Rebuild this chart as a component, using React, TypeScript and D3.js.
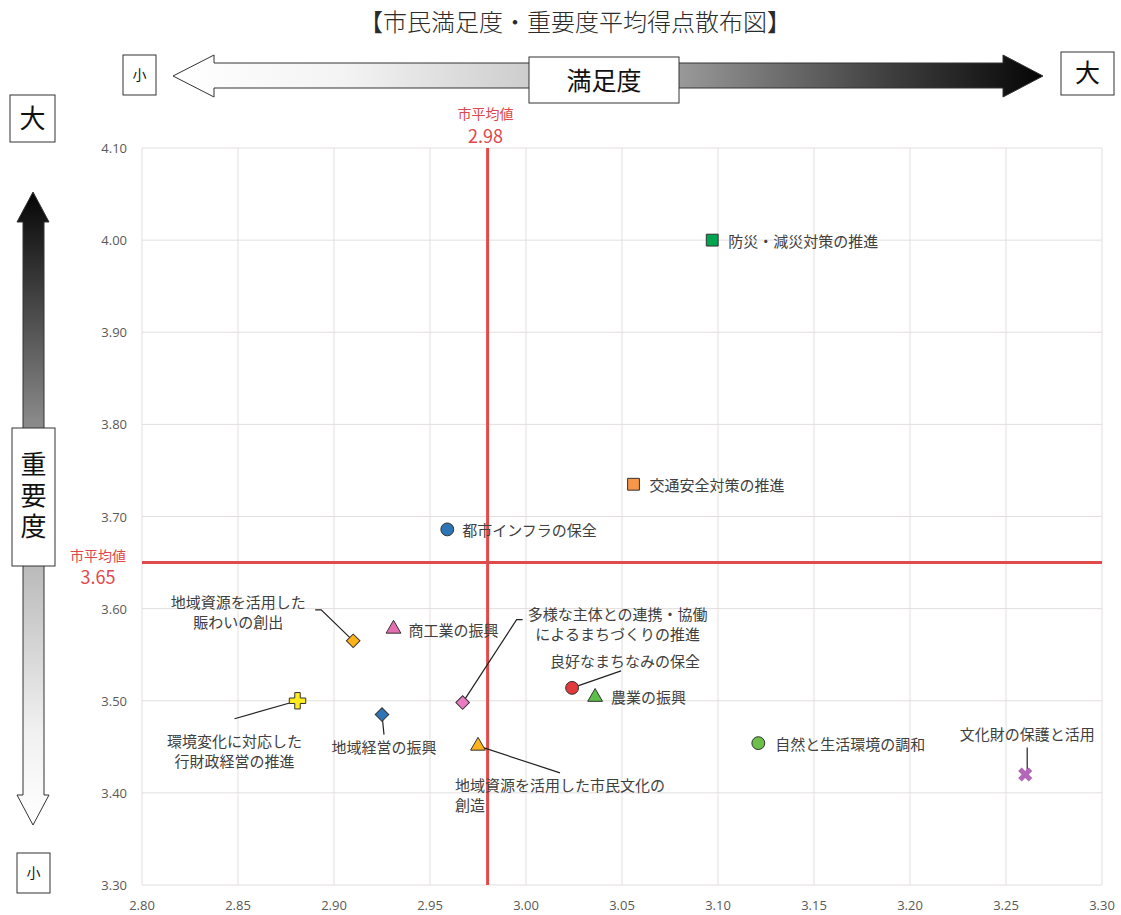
import React from 'react';
import * as d3 from 'd3';

// Scatter of citizen satisfaction (x) against importance (y) per policy item.

const items = [
  '防災・減災対策の推進',
  '交通安全対策の推進',
  '都市インフラの保全',
  '地域資源を活用した賑わいの創出',
  '商工業の振興',
  '多様な主体との連携・協働によるまちづくりの推進',
  '良好なまちなみの保全',
  '農業の振興',
  '環境変化に対応した行財政経営の推進',
  '地域経営の振興',
  '地域資源を活用した市民文化の創造',
  '自然と生活環境の調和',
  '文化財の保護と活用',
];
const satisfaction = [3.097, 3.056, 2.959, 2.91, 2.931, 2.967, 3.024, 3.036, 2.881, 2.925, 2.975, 3.121, 3.26];
const importance = [4.0, 3.735, 3.686, 3.565, 3.578, 3.498, 3.514, 3.504, 3.5, 3.485, 3.451, 3.454, 3.42];

const meanSatisfaction = 2.98;
const meanImportance = 3.65;

const xTicks = [2.8, 2.85, 2.9, 2.95, 3.0, 3.05, 3.1, 3.15, 3.2, 3.25, 3.3];
const yTicks = [3.3, 3.4, 3.5, 3.6, 3.7, 3.8, 3.9, 4.0, 4.1];

// marker look per item (same order as items)
const markerStyles: { shape: string; fill: string }[] = [
  { shape: 'square', fill: '#00a550' },
  { shape: 'square', fill: '#f79646' },
  { shape: 'circle', fill: '#2e75b6' },
  { shape: 'diamond', fill: '#ffb31a' },
  { shape: 'triangle', fill: '#e46fb0' },
  { shape: 'diamond', fill: '#ea7bc3' },
  { shape: 'circle', fill: '#e03a3a' },
  { shape: 'triangle', fill: '#5cbf4a' },
  { shape: 'cross', fill: '#ffea20' },
  { shape: 'diamond', fill: '#2e75b6' },
  { shape: 'triangle', fill: '#ffb31a' },
  { shape: 'circle', fill: '#6cc04a' },
  { shape: 'x', fill: '#b466b9' },
];

// label placement relative to the marker, in px
const labelLayout: {
  lines: string[];
  dx: number;
  dy: number;
  anchor: 'start' | 'middle';
  leader?: [number, number][];
}[] = [
  { lines: ['防災・減災対策の推進'], dx: 16, dy: 0, anchor: 'start' },
  { lines: ['交通安全対策の推進'], dx: 16, dy: 0, anchor: 'start' },
  { lines: ['都市インフラの保全'], dx: 15, dy: 0, anchor: 'start' },
  { lines: ['地域資源を活用した', '賑わいの創出'], dx: -115, dy: -40, anchor: 'middle', leader: [[-38, -31], [-32, -31], [0, 0]] },
  { lines: ['商工業の振興'], dx: 15, dy: 0, anchor: 'start' },
  { lines: ['多様な主体との連携・協働', 'によるまちづくりの推進'], dx: 155, dy: -90, anchor: 'middle', leader: [[60, -83], [54, -83], [0, 0]] },
  { lines: ['良好なまちなみの保全'], dx: 53, dy: -28, anchor: 'middle', leader: [[49, -17], [0, 0]] },
  { lines: ['農業の振興'], dx: 16, dy: -1, anchor: 'start' },
  { lines: ['環境変化に対応した', '行財政経営の推進'], dx: -63, dy: 39, anchor: 'middle', leader: [[-63, 18], [0, 0]] },
  { lines: ['地域経営の振興'], dx: 2, dy: 31, anchor: 'middle', leader: [[2, 20], [0, 0]] },
  { lines: ['地域資源を活用した市民文化の', '創造'], dx: -23, dy: 38, anchor: 'start', leader: [[82, 27], [0, 0]] },
  { lines: ['自然と生活環境の調和'], dx: 17, dy: 0, anchor: 'start' },
  { lines: ['文化財の保護と活用'], dx: 2, dy: -41, anchor: 'middle', leader: [[2, -27], [2, -4]] },
];

const W = 1121;
const H = 915;
const plot = { left: 142, right: 1102, top: 148, bottom: 885 };
const JP = '"Noto Sans CJK JP", "Noto Sans", sans-serif';
const NUM = '"Open Sans", "Noto Sans", sans-serif';
const TXT = '#404040';
const RED = '#e0474c';

function markerPath(shape: string): { d: string; rotate: number } {
  switch (shape) {
    case 'square':
      return { d: d3.symbol(d3.symbolSquare, 140)() as string, rotate: 0 };
    case 'circle':
      return { d: d3.symbol(d3.symbolCircle, 130)() as string, rotate: 0 };
    case 'diamond':
      return { d: d3.symbol(d3.symbolSquare, 92)() as string, rotate: 45 };
    case 'triangle':
      return { d: d3.symbol(d3.symbolTriangle, 95)() as string, rotate: 0 };
    case 'cross':
      return { d: d3.symbol(d3.symbolCross, 150)() as string, rotate: 0 };
    default:
      return { d: d3.symbol(d3.symbolCross, 125)() as string, rotate: 45 };
  }
}

export default function App() {
  const x = d3.scaleLinear().domain([2.8, 3.3]).range([plot.left, plot.right]);
  const y = d3.scaleLinear().domain([3.3, 4.1]).range([plot.bottom, plot.top]);
  const line = d3.line();

  const hArrow = 'M173,76 L214,55 L214,63 L1003,63 L1003,55 L1043,76 L1003,97 L1003,88 L214,88 L214,97 Z';
  const vArrow = 'M33,192 L49,222 L44,222 L44,795 L49,795 L33,825 L17,795 L23,795 L23,222 L17,222 Z';
  const mx = x(meanSatisfaction) - 2;

  return (
    <div style={{ position: 'absolute', left: 0, top: 0 }}>
      <svg width={W} height={H} style={{ display: 'block', background: '#fff' }}>
        <defs>
          <linearGradient id="hGrad" gradientUnits="userSpaceOnUse" x1={173} y1={0} x2={1043} y2={0}>
            <stop offset="0" stopColor="#ffffff" />
            <stop offset="0.2" stopColor="#f3f3f3" />
            <stop offset="0.41" stopColor="#cdcdcd" />
            <stop offset="0.58" stopColor="#9a9a9a" />
            <stop offset="0.82" stopColor="#404040" />
            <stop offset="1" stopColor="#050505" />
          </linearGradient>
          <linearGradient id="vGrad" gradientUnits="userSpaceOnUse" x1={0} y1={192} x2={0} y2={825}>
            <stop offset="0" stopColor="#050505" />
            <stop offset="0.36" stopColor="#888888" />
            <stop offset="0.6" stopColor="#bcbcbc" />
            <stop offset="0.85" stopColor="#f0f0f0" />
            <stop offset="1" stopColor="#ffffff" />
          </linearGradient>
        </defs>

        {/* title */}
        <text x={575} y={31} textAnchor="middle" fontFamily={JP} fontSize={24} fontWeight={300} fill="#2a2a2a">
          【市民満足度・重要度平均得点散布図】
        </text>

        {/* satisfaction arrow */}
        <path d={hArrow} fill="url(#hGrad)" stroke="#333" strokeWidth={1} />
        <rect x={529} y={57} width={150} height={46} fill="#fff" stroke="#333" strokeWidth={1} />
        <text x={604} y={90} textAnchor="middle" fontFamily={JP} fontSize={25} fill="#111">満足度</text>
        <rect x={123} y={55} width={33} height={40} fill="#fff" stroke="#333" strokeWidth={1} />
        <text x={139.5} y={80} textAnchor="middle" fontFamily={JP} fontSize={14} fill="#111">小</text>
        <rect x={1061} y={52} width={53} height={43} fill="#fff" stroke="#333" strokeWidth={1} />
        <text x={1087.5} y={82} textAnchor="middle" fontFamily={JP} fontSize={25} fill="#111">大</text>

        {/* importance arrow */}
        <rect x={10} y={95} width={45} height={47} fill="#fff" stroke="#333" strokeWidth={1} />
        <text x={32.5} y={128} textAnchor="middle" fontFamily={JP} fontSize={26} fill="#111">大</text>
        <path d={vArrow} fill="url(#vGrad)" stroke="#333" strokeWidth={1} />
        <rect x={12} y={428} width={43} height={138} fill="#fff" stroke="#333" strokeWidth={1} />
        <text
          x={33.5}
          y={498}
          textAnchor="middle"
          fontFamily={JP}
          fontSize={26}
          letterSpacing={5}
          fill="#111"
          style={{ writingMode: 'vertical-rl' }}
        >
          重要度
        </text>
        <rect x={17} y={853} width={33} height={40} fill="#fff" stroke="#333" strokeWidth={1} />
        <text x={33.5} y={878} textAnchor="middle" fontFamily={JP} fontSize={14} fill="#111">小</text>

        {/* grid */}
        {xTicks.map((t) => (
          <line key={'gx' + t} x1={x(t)} x2={x(t)} y1={plot.top} y2={plot.bottom} stroke="#e3dede" strokeWidth={1} />
        ))}
        {yTicks.map((t) => (
          <line key={'gy' + t} x1={plot.left} x2={plot.right} y1={y(t)} y2={y(t)} stroke="#e3dede" strokeWidth={1} />
        ))}
        {xTicks.map((t) => (
          <text key={'tx' + t} x={x(t)} y={910} textAnchor="middle" fontFamily={NUM} fontSize={13} fill="#595959">
            {t.toFixed(2)}
          </text>
        ))}
        {yTicks.map((t) => (
          <text key={'ty' + t} x={127} y={y(t) + 5} textAnchor="end" fontFamily={NUM} fontSize={13} fill="#595959">
            {t.toFixed(2)}
          </text>
        ))}

        {/* mean lines */}
        <line x1={x(meanSatisfaction)} x2={x(meanSatisfaction)} y1={plot.top} y2={plot.bottom} stroke="#e04a4a" strokeWidth={3} />
        <line x1={plot.left} x2={plot.right} y1={y(meanImportance)} y2={y(meanImportance)} stroke="#e04a4a" strokeWidth={3} />
        <text x={mx} y={119} textAnchor="middle" fontFamily={JP} fill={RED}>
          <tspan x={mx} y={119} fontSize={14}>市平均値</tspan>
          <tspan x={mx} y={143} fontSize={18}>{meanSatisfaction.toFixed(2)}</tspan>
        </text>
        <text x={98} y={561} textAnchor="middle" fontFamily={JP} fill={RED}>
          <tspan x={98} y={561} fontSize={14}>市平均値</tspan>
          <tspan x={98} y={584} fontSize={18}>{meanImportance.toFixed(2)}</tspan>
        </text>

        {/* leaders */}
        {items.map((name, i) => {
          const l = labelLayout[i];
          if (!l.leader) return null;
          const px = x(satisfaction[i]);
          const py = y(importance[i]);
          const pts = l.leader.map(([a, b]) => [px + a, py + b] as [number, number]);
          return <path key={'ld' + name} d={line(pts) as string} fill="none" stroke="#222" strokeWidth={1.2} />;
        })}

        {/* markers */}
        {items.map((name, i) => {
          const s = markerStyles[i];
          const m = markerPath(s.shape);
          const isX = s.shape === 'x';
          return (
            <path
              key={'mk' + name}
              d={m.d}
              transform={`translate(${x(satisfaction[i])},${y(importance[i])}) rotate(${m.rotate})`}
              fill={s.fill}
              stroke={isX ? 'none' : '#333'}
              strokeWidth={1}
            />
          );
        })}

        {/* labels */}
        {items.map((name, i) => {
          const l = labelLayout[i];
          const px = x(satisfaction[i]) + l.dx;
          const py = y(importance[i]) + l.dy;
          return (
            <text key={'lb' + name} x={px} y={py} textAnchor={l.anchor} dominantBaseline="central" fontFamily={JP} fontSize={15} fill={TXT}>
              {l.lines.map((s, k) => (
                <tspan key={k} x={px} y={py + k * 20}>
                  {s}
                </tspan>
              ))}
            </text>
          );
        })}
      </svg>
    </div>
  );
}
